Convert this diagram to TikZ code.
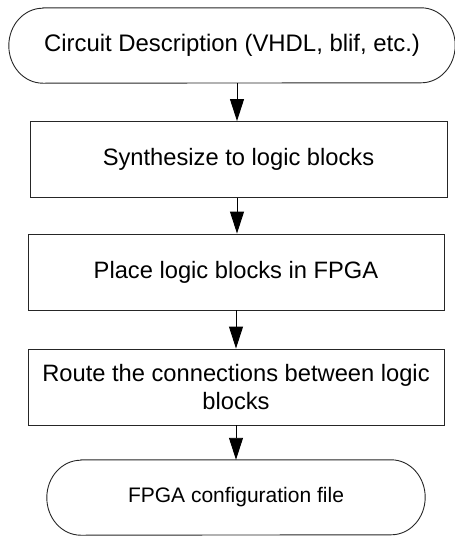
\documentclass[tikz,border=0pt]{standalone}
\usepackage{fontspec}
\setmainfont{Liberation Sans}
\usetikzlibrary{arrows.meta,calc}
\tikzset{
  boxstyle/.style={draw=black!85, line width=0.9pt, minimum height=76pt, inner sep=2pt, align=center, font=\fontsize{23.7}{27.5}\selectfont},
  termtext/.style={minimum height=75pt, inner sep=0pt},
  termline/.style={draw=black!85, line width=0.9pt},
  arr/.style={draw=black, line width=0.9pt, -{Triangle[length=22pt,width=14pt]}}
}
\begin{document}
\begin{tikzpicture}[x=1pt,y=1pt]
\useasboundingbox (0,0) rectangle (455,-536);
% top terminal
\node[termtext, minimum width=446pt, font=\fontsize{23.9}{27.5}\selectfont] (t1) at (232,-45.5) {Circuit Description (VHDL, blif, etc.)};
\draw[termline] ([xshift=34pt]t1.north west) -- ([xshift=-34pt]t1.north east)
  arc[start angle=90, end angle=-90, x radius=34pt, y radius=37.5pt]
  -- ([xshift=34pt]t1.south west)
  arc[start angle=270, end angle=90, x radius=34pt, y radius=37.5pt] -- cycle;
% boxes
\node[boxstyle, minimum width=417pt] (b1) at (238.5,-159.5) {Synthesize to logic blocks};
\node[boxstyle, minimum width=416pt] (b2) at (236,-272) {Place logic blocks in FPGA};
\node[boxstyle, minimum width=416pt] (b3) at (236,-387) {Route the connections between logic\\blocks};
% bottom terminal
\node[termtext, minimum width=378pt, font=\fontsize{21}{25}\selectfont] (t2) at (236,-497.5) {FPGA configuration file};
\draw[termline] ([xshift=34pt]t2.north west) -- ([xshift=-34pt]t2.north east)
  arc[start angle=90, end angle=-90, x radius=34pt, y radius=37.5pt]
  -- ([xshift=34pt]t2.south west)
  arc[start angle=270, end angle=90, x radius=34pt, y radius=37.5pt] -- cycle;
% arrows
\coordinate (a1) at ($(t1.south)+(5,0)$);
\draw[arr] (a1) -- (a1 |- b1.north);
\coordinate (a2) at ($(b1.south)+(-1.5,0)$);
\draw[arr] (a2) -- (a2 |- b2.north);
\draw[arr] (b2.south) -- (b3.north);
\draw[arr] (b3.south) -- (t2.north);
\end{tikzpicture}
\end{document}
